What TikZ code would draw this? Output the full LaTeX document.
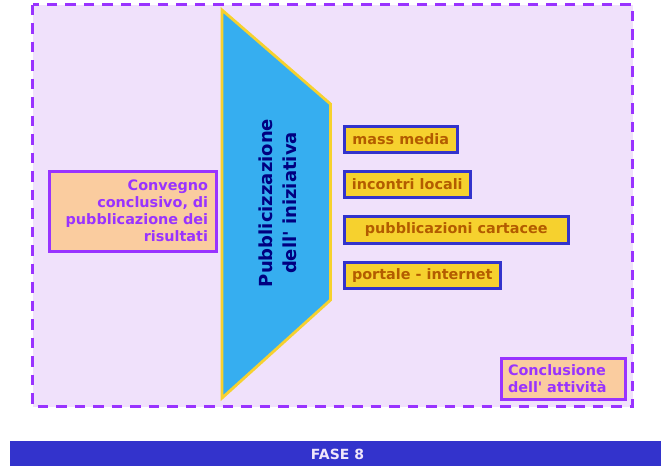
\documentclass[tikz,border=0pt]{standalone}
\usepackage{fontspec}
\setmainfont{DejaVu Sans}
\usetikzlibrary{positioning}
\definecolor{viola}{HTML}{9933FF}
\definecolor{lilla}{HTML}{F0E1FB}
\definecolor{celeste}{HTML}{36AEF0}
\definecolor{giallo}{HTML}{F6D12E}
\definecolor{blu}{HTML}{3333CC}
\definecolor{pesca}{HTML}{FACC9F}
\definecolor{marrone}{HTML}{B35C00}
\definecolor{notte}{HTML}{000080}
\definecolor{chiaro}{HTML}{F0E6FA}
\newcommand{\testo}{\bfseries\fontsize{14.4}{17}\selectfont}
\newcommand{\apo}{\textquotesingle}

\tikzset{
  voce/.style={draw=blu, fill=giallo, line width=3pt, text=marrone, font=\testo,
    minimum height=26.5pt, inner sep=0pt, anchor=north west},
  nota/.style={draw=viola, fill=pesca, line width=3pt, text=viola, font=\testo,
    inner ysep=0pt, anchor=north west}
}

\begin{document}
\begin{tikzpicture}[x=1pt, y=-1pt]
\useasboundingbox (0,0) rectangle (661,466);
% area della fase
\filldraw[fill=lilla, draw=viola, line width=3pt, dash pattern=on 10.5pt off 8pt]
	(32.5,4.5) rectangle (632.5,406.5);
% imbuto
\filldraw[fill=celeste, draw=giallo, line width=2.8pt]
	(222,10) -- (330.5,104) -- (330.5,300) -- (222,398) -- cycle;
\node[rotate=90, align=center, text=notte, font=\bfseries\fontsize{18}{24}\selectfont]
	(imbuto) at (277.5,203) {Pubblicizzazione\\dell\apo{} iniziativa};
% ingresso
\node[nota, minimum width=167pt, minimum height=80pt, text width=151pt, inner xsep=8pt, align=right]
	(convegno) at (47.5,169.5) {Convegno\\conclusivo, di\\pubblicazione dei\\risultati};
% uscite
\node[voce, minimum width=113.5pt] (media) at (342.5,124.5) {mass media};
\node[voce, minimum width=126.5pt, below=15.5pt of media.south west, anchor=north west] (incontri) {incontri locali};
\node[voce, minimum width=224.5pt, minimum height=27.5pt, below=15.5pt of incontri.south west, anchor=north west] (cartacee) {pubblicazioni cartacee};
\node[voce, minimum width=156.5pt, below=15.5pt of cartacee.south west, anchor=north west] (portale) {portale - internet};
% esito
\node[nota, minimum width=124pt, minimum height=41pt, text width=110pt, inner xsep=7pt, align=left]
	(conclusione) at (499.5,356.5) {Conclusione\\dell\apo{} attivit\`a};
% barra
\fill[blu] (10,441) rectangle (661,466);
\node[text=chiaro, font=\bfseries\fontsize{14}{16}\selectfont, inner sep=0pt]
	(fase) at (337.5,454.3) {FASE 8};
\end{tikzpicture}
\end{document}
